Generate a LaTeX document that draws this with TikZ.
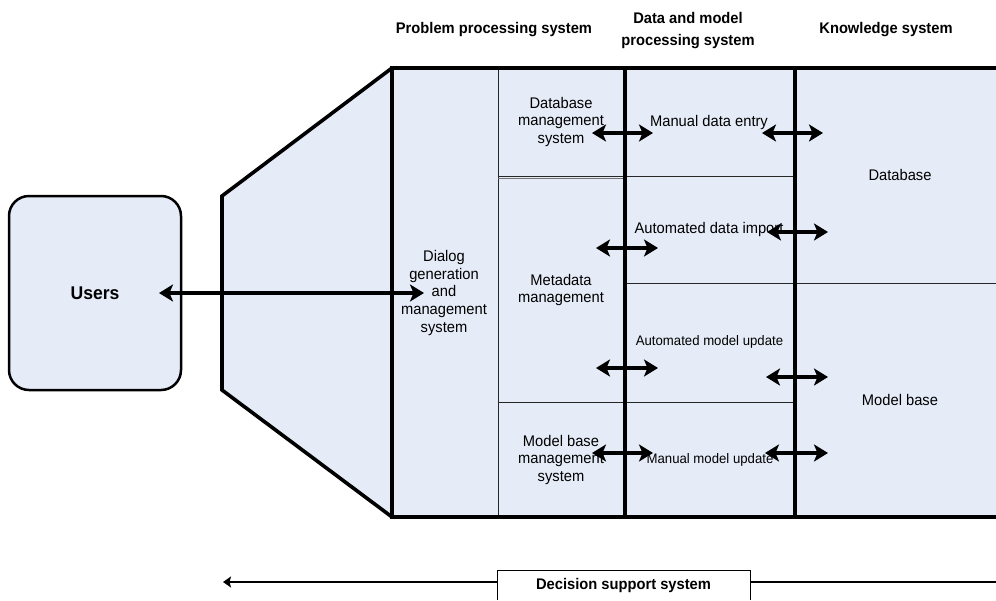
\documentclass[tikz,border=0pt]{standalone}
\usepackage{fontspec}
\setmainfont{Liberation Sans}[FakeStretch=0.955]
\usetikzlibrary{arrows.meta}
\definecolor{panel}{RGB}{230,236,247}
\tikzset{
  x=1pt, y=-1pt,
  frameline/.style={line width=3.6pt, line join=miter},
  divider/.style={line width=4pt},
  cellline/.style={line width=1pt, draw=black!85},
  link/.style={line width=4pt, {Stealth[length=14pt,width=17pt,inset=3.5pt]}-{Stealth[length=14pt,width=17pt,inset=3.5pt]}},
  lbl/.style={font=\fontsize{15.4}{17.6}\selectfont, align=center, inner sep=0pt},
  smalllbl/.style={font=\fontsize{13.8}{15.5}\selectfont, align=center, inner sep=0pt},
  head/.style={font=\fontsize{15.4}{22}\selectfont\bfseries, align=center, inner sep=0pt},
  usersbox/.style={draw, line width=2.5pt, fill=panel, rounded corners=20pt,
    minimum width=172pt, minimum height=194pt, font=\fontsize{18.4}{20}\selectfont\bfseries}
}
\begin{document}
\begin{tikzpicture}
\useasboundingbox (0,0) rectangle (996,600);

% column headings
\node[head] (hpps) at (494,29.5) {Problem processing system};
\node[head] (hdmps) at (688,30.5) {Data and model\\processing system};
\node[head] (hks) at (886,29.5) {Knowledge system};

% users
\node[usersbox] (users) at (95,293) {Users};

% funnel and main panel
\fill[panel] (392,68) rectangle (996,517);
\draw[frameline, fill=panel] (392,68) -- (222,196) -- (222,390) -- (392,517);

% inner cell lines
\draw[cellline] (498,68) -- (498,517);
\draw[cellline] (498,176) -- (625,176);
\draw[cellline, draw=black!55] (498,178.5) -- (625,178.5);
\draw[cellline] (498,402) -- (625,402);
\draw[cellline] (625,176) -- (795,176);
\draw[cellline] (625,283) -- (996,283);
\draw[cellline] (625,402) -- (795,402);

% heavy frame lines
\draw[frameline] (392,68) -- (392,517);
\draw[frameline] (390,68) -- (996,68);
\draw[frameline] (390,517) -- (996,517);
\draw[divider] (625,68) -- (625,517);
\draw[divider] (795,68) -- (795,517);

% labels
\node[lbl] (dlg) at (444,293) {Dialog\\generation\\and\\management\\system};
\node[lbl] (dbms) at (561,122) {Database\\management\\system};
\node[lbl] (meta) at (561,290) {Metadata\\management};
\node[lbl] (mbms) at (561,460) {Model base\\management\\system};
\node[lbl] (mde) at (709,122.5) {Manual data entry};
\node[lbl] (adi) at (709,229.5) {Automated data import};
\node[smalllbl] (amu) at (709.5,342) {Automated model update};
\node[smalllbl] (mmu) at (710,460) {Manual model update};
\node[lbl] (db) at (900,175) {Database};
\node[lbl] (mb) at (900,400) {Model base};

% arrow end points
\coordinate (uL) at (159,293);   \coordinate (uR) at (424,293);
\coordinate (a1) at (592,133);   \coordinate (b1) at (653,133);
\coordinate (c1) at (762,133);   \coordinate (d1) at (823,133);
\coordinate (a2) at (596,248);   \coordinate (b2) at (658,248);
\coordinate (c2) at (767,232);   \coordinate (d2) at (828,232);
\coordinate (a3) at (596,368);   \coordinate (b3) at (658,368);
\coordinate (c3) at (766,377);   \coordinate (d3) at (828,377);
\coordinate (a4) at (592,453);   \coordinate (b4) at (653,453);
\coordinate (c4) at (765,453);   \coordinate (d4) at (828,453);

% exchanges
\draw[link, line width=3.6pt] (uL) -- (uR);
\draw[link] (a1) -- (b1);  \draw[link] (c1) -- (d1);
\draw[link] (a2) -- (b2);  \draw[link] (c2) -- (d2);
\draw[link] (a3) -- (b3);  \draw[link] (c3) -- (d3);
\draw[link] (a4) -- (b4);  \draw[link] (c4) -- (d4);

% decision support system span
\coordinate (spanL) at (223,582);
\coordinate (spanR) at (996,582);
\draw[line width=1.8pt, -{Stealth[length=8pt,width=11pt,inset=1.5pt]}] (spanR) -- (spanL);
\path[fill=white, draw=black, line width=1pt] (497,600) -- (497,570) -- (750,570) -- (750,600);
\node[head] (dss) at (623.5,585.5) {Decision support system};
\end{tikzpicture}
\end{document}
